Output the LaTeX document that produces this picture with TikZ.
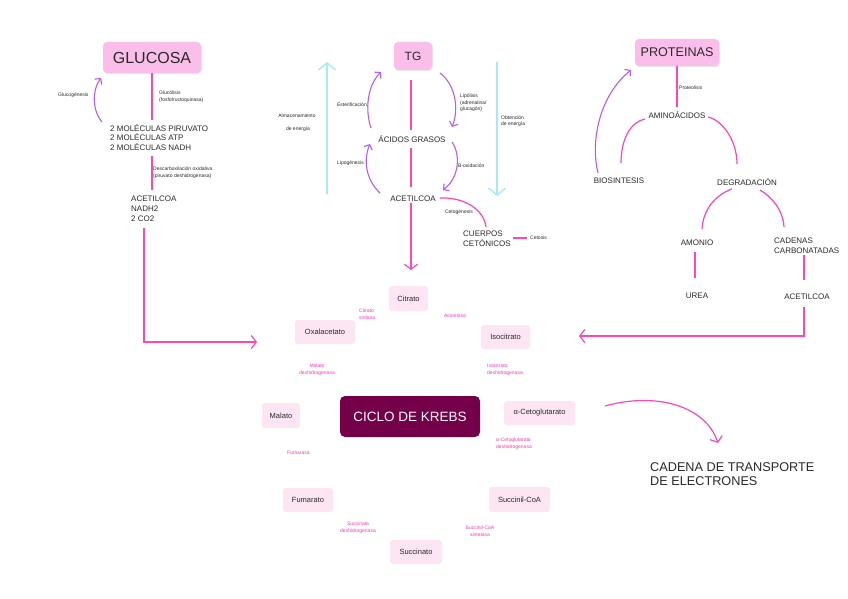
\documentclass[tikz,border=0pt]{standalone}
\usepackage{fontspec}
\setmainfont{Liberation Sans}
\usetikzlibrary{arrows.meta,shadows}
\definecolor{pinkline}{HTML}{FF45B8}
\definecolor{purp}{HTML}{B25CFF}
\definecolor{cyanl}{HTML}{A6EAF8}
\definecolor{boxpink}{HTML}{FBBEEA}
\definecolor{kpink}{HTML}{FDE5F3}
\definecolor{maroon}{HTML}{74004A}
\definecolor{txt}{HTML}{2A2A2A}
\definecolor{enzc}{HTML}{FF33B8}
\tikzset{
  pk/.style={draw=pinkline, line width=1.2pt},
  pkarrow/.style={pk, -{Straight Barb[length=5pt,width=13pt]}},
  pu/.style={draw=purp, line width=1.1pt, -{Straight Barb[length=4pt,width=9pt]}},
  cy/.style={draw=cyanl, line width=1.4pt, -{Straight Barb[length=7pt,width=17pt]}},
  bigbox/.style={fill=boxpink, rounded corners=4pt, inner sep=0, text=txt,
     drop shadow={opacity=0.18, shadow xshift=0.8pt, shadow yshift=-1.2pt}},
  kbox/.style={fill=kpink, rounded corners=3pt, inner sep=0, text=txt,
     font=\fontsize{7.5}{9}\selectfont},
  lbl/.style={inner sep=0, font=\fontsize{5}{6.6}\selectfont, text=txt, align=left},
  enz/.style={lbl, text=enzc},
  capt/.style={inner sep=0, font=\fontsize{8}{9.8}\selectfont, text=txt, align=left},
}
\begin{document}
\begin{tikzpicture}[x=1pt,y=-1pt]
\fill[white] (0,0) rectangle (848,599);
\useasboundingbox (0,0) rectangle (848,599);

% ---------------- GLUCOSA column
\node[bigbox, minimum width=98pt, minimum height=31pt, font=\fontsize{16}{19}\selectfont] (glucosa) at (152,57.5) {GLUCOSA};
\node[lbl, anchor=west] (glucolisis) at (159,96.5) {Glucólisis\\(fosfofructoquinasa)};
\node[capt, anchor=west] (mol) at (110,137.5) {2 MOLÉCULAS PIRUVATO\\2 MOLÉCULAS ATP\\2 MOLÉCULAS NADH};
\node[lbl, anchor=west] (glucogen) at (58,95) {Glucogénesis};
\node[lbl, anchor=west] (descarb) at (153,172.5) {Descarboxilación oxidativa\\(piruvato deshidrogenasa)};
\node[capt, anchor=west] (acetil1) at (131,209) {ACETILCOA\\NADH2\\2 CO2};
\coordinate (m1top) at (152,120);
\coordinate (m2top) at (152,156);
\coordinate (m2bot) at (152,190);
\coordinate (gg1) at (102,122);
\coordinate (gg2) at (101,78);
\coordinate (a1start) at (144,228);
\coordinate (a1corner) at (144,342);
\coordinate (a1end) at (257,342);

\draw[pk] (glucosa.south) -- (m1top);
\draw[pk] (m2top) -- (m2bot);
\draw[pu] (gg1) .. controls (92,110) and (92,90) .. (gg2);
\draw[pkarrow] (a1start) -- (a1corner) -- (a1end);

% ---------------- TG column
\node[bigbox, minimum width=38pt, minimum height=28pt, font=\fontsize{12}{14}\selectfont] (tg) at (413,56) {TG};
\node[capt, anchor=center] (acidos) at (412,139) {ÁCIDOS GRASOS};
\node[capt, anchor=center] (acetil2) at (413,199) {ACETILCOA};
\node[lbl, anchor=center] (almac1) at (297,116) {Almacenamiento};
\node[lbl, anchor=center] (almac2) at (298,129) {de energía};
\node[lbl, anchor=west] (obten) at (501,121) {Obtención\\de energía};
\node[lbl, anchor=east] (ester) at (367,105) {Esterificación};
\node[lbl, anchor=east] (lipog) at (364,163) {Lipogénesis};
\node[lbl, anchor=west] (lipol) at (460,103) {Lipólisis\\(adrenalina/\\glucagón)};
\node[lbl, anchor=west] (boxi) at (458,166) {B-oxidación};
\node[lbl, anchor=center] (cetog) at (459,212) {Cetogénesis};
\node[capt, anchor=west] (cuerpos) at (463,239) {CUERPOS\\CETÓNICOS};
\node[lbl, anchor=west] (cetosis) at (530,238) {Cetosis};

\coordinate (cyL1) at (327,194);
\coordinate (cyL2) at (327,62);
\coordinate (cyR1) at (497,62);
\coordinate (cyR2) at (497,196);
\coordinate (tgl1) at (411,80);
\coordinate (tgl2) at (411,130);
\coordinate (tgl3) at (411,148);
\coordinate (tgl4) at (411,187);
\coordinate (tgl5) at (411,203);
\coordinate (tgl6) at (411,270);

\draw[cy] (cyL1) -- (cyL2);
\draw[cy] (cyR1) -- (cyR2);
\draw[pk] (tgl1) -- (tgl2);
\draw[pk] (tgl3) -- (tgl4);
\draw[pkarrow] (tgl5) -- (tgl6);
\draw[pu] (371,128) .. controls (365,110) and (367,86) .. (381,72);
\draw[pu] (380,193) .. controls (366,180) and (363,160) .. (370,144);
\draw[pu] (440,73) .. controls (456,85) and (459,110) .. (452,127);
\draw[pu] (452,142) .. controls (461,155) and (459,178) .. (443,190);
\draw[pk] (440,198) .. controls (465,197) and (484,210) .. (486,227);
\draw[pk] (513,238) -- (cetosis.west -| 527,0);

% ---------------- PROTEINAS column
\node[bigbox, minimum width=84pt, minimum height=27pt, font=\fontsize{12.6}{15}\selectfont] (prot) at (677,52.5) {PROTEINAS};
\node[lbl, anchor=west] (proteol) at (679,88) {Proteolisis};
\node[capt, anchor=center] (amino) at (677,115) {AMINOÁCIDOS};
\node[capt, anchor=center] (bios) at (619,181) {BIOSINTESIS};
\node[capt, anchor=center] (degr) at (747,182) {DEGRADACIÓN};
\node[capt, anchor=center] (amonio) at (697,243) {AMONIO};
\node[capt, anchor=west] (cadenas) at (774,245.5) {CADENAS\\CARBONATADAS};
\node[capt, anchor=center] (urea) at (697,296) {UREA};
\node[capt, anchor=center] (acetil3) at (807,297) {ACETILCOA};

\draw[pk] (prot.south) -- (677,107);
\draw[pk] (645,119) .. controls (630,122) and (621,140) .. (621,163);
\draw[pk] (708,117) .. controls (722,120) and (737,140) .. (737,164);
\draw[pu] (598,173) .. controls (590,140) and (600,95) .. (631,70);
\draw[pk] (732,189) .. controls (715,195) and (703,210) .. (702,229);
\draw[pk] (760,190) .. controls (772,197) and (783,210) .. (784,227);
\draw[pk] (695,252) -- (695,278);
\draw[pk] (804,255) -- (804,280);
\coordinate (a3end) at (579,336);
\draw[pkarrow] (804,307) -- (804,336) -- (a3end);

% ---------------- Krebs cycle
\node[kbox, minimum width=39pt, minimum height=25pt] (citrato) at (408.5,298.5) {Citrato};
\node[kbox, minimum width=60pt, minimum height=24pt] (oxal) at (325,332) {Oxalacetato};
\node[kbox, minimum width=49pt, minimum height=24pt] (isoc) at (505.5,337) {Isocitrato};
\node[kbox, minimum width=38pt, minimum height=25pt] (malato) at (281,415.5) {Malato};
\node[fill=maroon, rounded corners=5pt, inner sep=0, minimum width=140pt, minimum height=41pt,
      text=white!92!pink, font=\fontsize{13.5}{16}\selectfont] (krebs) at (410,416.5) {CICLO DE KREBS};
\node[kbox, minimum width=71pt, minimum height=24pt] (alfa) at (539.5,413) {α-Cetoglutarato};
\node[kbox, minimum width=50pt, minimum height=24pt] (fumarato) at (308,500) {Fumarato};
\node[kbox, minimum width=61pt, minimum height=25pt] (succoa) at (519.5,499.5) {Succinil-CoA};
\node[kbox, minimum width=52pt, minimum height=24pt] (succ) at (416,552) {Succinato};

\node[enz, anchor=west] (e1) at (359,314.5) {Citrato\\sintasa};
\node[enz, anchor=center] (e2) at (455,316) {Aconitasa};
\node[enz, anchor=center, align=center] (e3) at (317,369.5) {Malato\\deshidrogenasa};
\node[enz, anchor=west] (e4) at (487,370) {Isocitrato\\deshidrogenasa};
\node[enz, anchor=west] (e5) at (287,453) {Fumarasa};
\node[enz, anchor=west] (e6) at (496,444) {α-Cetoglutarato\\deshidrogenasa};
\node[enz, anchor=center, align=center] (e7) at (358,527.5) {Succinato\\deshidrogenasa};
\node[enz, anchor=center, align=center] (e8) at (480,531.5) {Succinil-CoA\\sintetasa};

% ---------------- Electron transport
\node[inner sep=0, anchor=west, align=left, text=txt, font=\fontsize{12.7}{14.2}\selectfont] (cadena) at (650,474) {CADENA DE TRANSPORTE\\DE ELECTRONES};
\coordinate (ctstart) at (605,406);
\coordinate (ctend) at (718,443);
\draw[pkarrow] (ctstart) .. controls (655,392) and (705,405) .. (ctend);
\end{tikzpicture}
\end{document}
